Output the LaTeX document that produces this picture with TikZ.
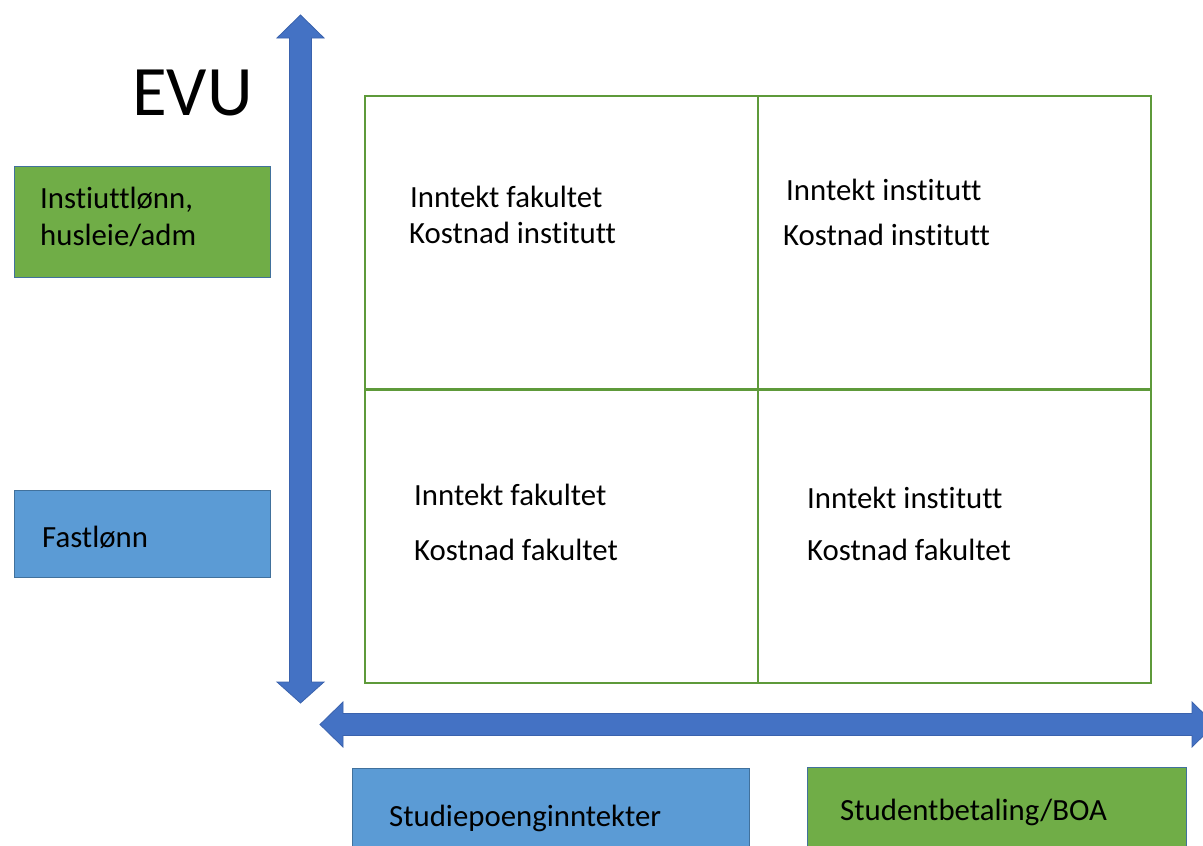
\documentclass[tikz,border=0pt]{standalone}
\usepackage{fontspec}
\setmainfont{Carlito}[Ligatures=CommonOff]
\definecolor{arrowblue}{HTML}{4472C4}
\definecolor{arrowedge}{HTML}{3A62AD}
\definecolor{boxgreen}{HTML}{70AD47}
\definecolor{boxblue}{HTML}{5B9BD5}
\definecolor{boxedge}{HTML}{41719C}
\definecolor{gridgreen}{HTML}{5E9A3A}
\tikzset{
  blockarrow/.style={fill=arrowblue, draw=arrowedge, line width=0.8pt, line join=miter},
  sidebox/.style={draw=boxedge, line width=1pt, anchor=north west, inner sep=0pt},
  cell/.style={draw=gridgreen, line width=1.5pt, anchor=north west, inner sep=0pt, minimum width=393pt, minimum height=294pt},
  celltext/.style={anchor=base west, inner sep=0pt, font=\fontsize{30.8}{36}\selectfont},
}
\begin{document}
\begin{tikzpicture}[x=1pt,y=-1pt]
\useasboundingbox (0,0) rectangle (1203,846);
\clip (0,0) rectangle (1203,846);
\fill[white] (0,0) rectangle (1203,846);

% vertical double arrow
\path[blockarrow] (300.5,15) -- (324,38) -- (311.5,38) -- (311.5,682) -- (324,682)
  -- (300.5,703) -- (277,682) -- (289.5,682) -- (289.5,38) -- (277,38) -- cycle;
% horizontal double arrow
\path[blockarrow] (320,724.5) -- (343,702) -- (343,713.5) -- (1192,713.5) -- (1192,702)
  -- (1215,724.5) -- (1192,747) -- (1192,735.5) -- (343,735.5) -- (343,747) -- cycle;

% EVU label
\node[anchor=base west, inner sep=0pt, font=\fontsize{71}{80}\selectfont] (evu) at (132,115) {EVU};

% grid cells
\node[cell] (tl) at (364,95) {};
\node[cell] (tr) at (757,95) {};
\node[cell] (bl) at (364,388) {};
\node[cell] (br) at (757,388) {};

\node[celltext] (tl1) at (410,207) {Inntekt fakultet};
\node[celltext] (tl2) at (409,243) {Kostnad institutt};
\node[celltext] (tr1) at (786,200) {Inntekt institutt};
\node[celltext] (tr2) at (783,245) {Kostnad institutt};
\node[celltext] (bl1) at (414,505) {Inntekt fakultet};
\node[celltext] (bl2) at (414,560) {Kostnad fakultet};
\node[celltext] (br1) at (807,508) {Inntekt institutt};
\node[celltext] (br2) at (807,560) {Kostnad fakultet};

% side boxes
\node[sidebox, fill=boxgreen, minimum width=256pt, minimum height=111pt] (inst) at (14,166) {};
\node[celltext] (inst1) at (40,208) {Instiuttlønn,};
\node[celltext] (inst2) at (40,245) {husleie/adm};

\node[sidebox, fill=boxblue, minimum width=256pt, minimum height=87pt] (fast) at (14,490) {};
\node[celltext] (fast1) at (42,547) {Fastlønn};

% bottom boxes
\node[sidebox, fill=boxblue, minimum width=397pt, minimum height=100pt] (stp) at (352,768) {};
\node[celltext] (stp1) at (389,826) {Studiepoenginntekter};

\node[sidebox, fill=boxgreen, minimum width=379pt, minimum height=100pt] (sbet) at (807,767) {};
\node[celltext] (sbet1) at (840,820) {Studentbetaling/BOA};
\end{tikzpicture}
\end{document}
